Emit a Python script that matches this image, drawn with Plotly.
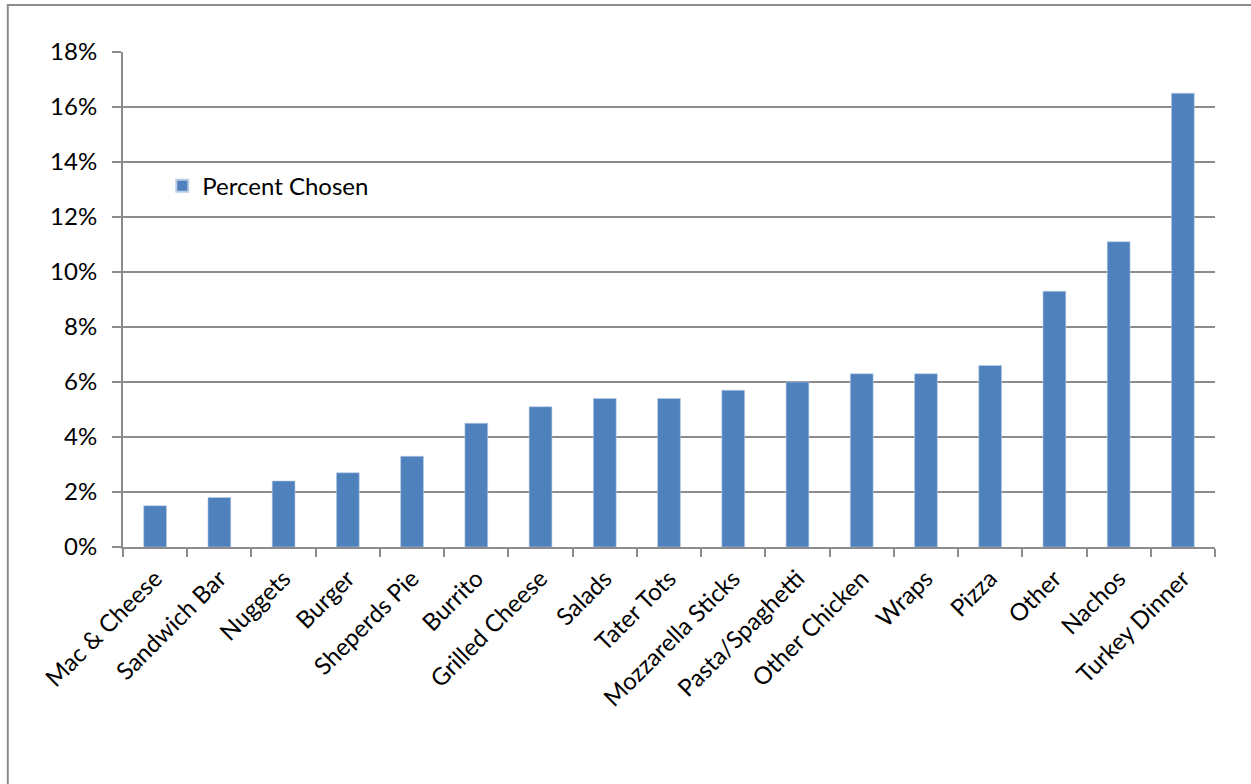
import plotly.graph_objects as go

categories = [
    "Mac & Cheese", "Sandwich Bar", "Nuggets", "Burger", "Sheperds Pie",
    "Burrito", "Grilled Cheese", "Salads", "Tater Tots", "Mozzarella Sticks",
    "Pasta/Spaghetti", "Other Chicken", "Wraps", "Pizza", "Other", "Nachos",
    "Turkey Dinner",
]
percent_chosen = [1.5, 1.8, 2.4, 2.7, 3.3, 4.5, 5.1, 5.4, 5.4, 5.7,
                  6.0, 6.3, 6.3, 6.6, 9.3, 11.1, 16.5]
y_ticks = [0, 2, 4, 6, 8, 10, 12, 14, 16, 18]
y_tick_labels = [f"{v}%" for v in y_ticks]

GRID = "#8c8c8c"
FONT = "Lato, Calibri, Carlito, sans-serif"

fig = go.Figure()
fig.add_trace(go.Bar(
    x=categories,
    y=percent_chosen,
    name="Percent Chosen",
    marker=dict(color="#4f81bd", line=dict(color="#b9cde5", width=0.6)),
))

fig.update_layout(
    width=1251,
    height=784,
    margin=dict(l=123, r=36, t=52, b=237),
    paper_bgcolor="white",
    plot_bgcolor="white",
    bargap=0.645,
    font=dict(family=FONT, size=24, color="black"),
    showlegend=True,
    legend=dict(
        x=0.036, y=0.729, xanchor="left", yanchor="middle",
        bgcolor="rgba(0,0,0,0)", font=dict(size=24),
        itemsizing="constant",
    ),
    xaxis=dict(
        tickangle=-45,
        tickson="boundaries",
        ticks="outside",
        ticklen=8,
        tickwidth=2,
        tickcolor=GRID,
        showline=True,
        linecolor=GRID,
        linewidth=2,
        showgrid=False,
        ticklabelstandoff=6,
        tickfont=dict(size=24),
    ),
    yaxis=dict(
        range=[0, 18],
        tickmode="array",
        tickvals=y_ticks,
        ticktext=y_tick_labels,
        ticks="outside",
        ticklen=9,
        tickwidth=2,
        tickcolor=GRID,
        showline=True,
        linecolor=GRID,
        linewidth=2,
        showgrid=True,
        gridcolor=GRID,
        gridwidth=2,
        zeroline=False,
        ticklabelstandoff=10,
        tickfont=dict(size=24),
    ),
    shapes=[dict(
        type="rect", xref="paper", yref="paper",
        x0=-0.1055, x1=1.2, y0=-0.7, y1=1.095,
        line=dict(color=GRID, width=2), fillcolor="rgba(0,0,0,0)",
        layer="below",
    )],
)

fig.write_html("out.html")
